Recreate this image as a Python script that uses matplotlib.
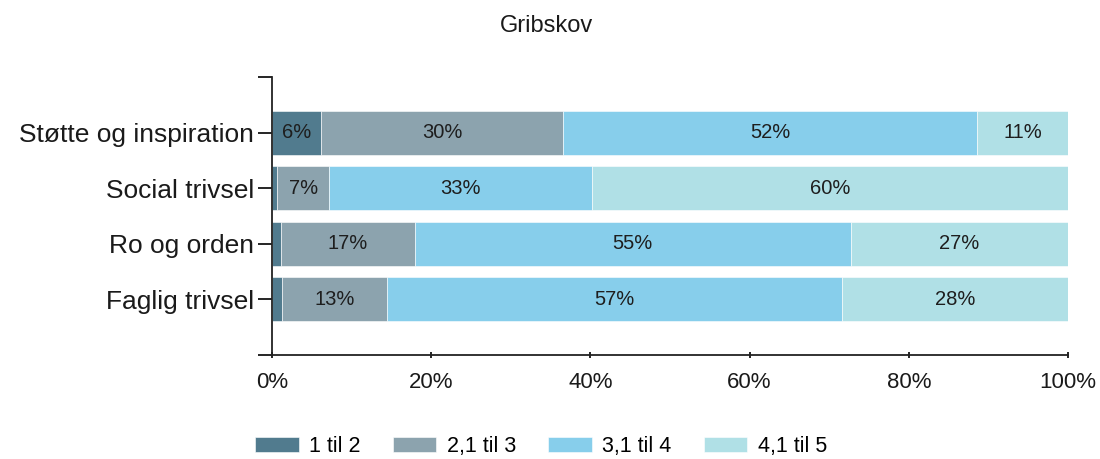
import numpy as np
import matplotlib
matplotlib.use("Agg")
import matplotlib.pyplot as plt

plt.rcParams['font.family'] = ['Liberation Sans', 'DejaVu Sans']

# Data (andel i procent pr. interval)
categories = ["Støtte og inspiration", "Social trivsel", "Ro og orden", "Faglig trivsel"]
series_names = ["1 til 2", "2,1 til 3", "3,1 til 4", "4,1 til 5"]
v_1_2 = [6.2, 0.6, 1.1, 1.3]
v_21_3 = [30.4, 6.6, 16.8, 13.1]
v_31_4 = [52.0, 33.0, 54.8, 57.2]
v_41_5 = [11.4, 59.8, 27.3, 28.4]
colors = ["#517b8e", "#8ca3ae", "#87ceeb", "#b0e0e6"]

fig = plt.figure(figsize=(11, 4.59), dpi=100)
ax = fig.add_axes([0.2473, 0.2266, 0.9709 - 0.2473, 0.8322 - 0.2266])

y = np.arange(len(categories))
left = np.zeros(len(categories))
for name, vals, col in zip(series_names, [v_1_2, v_21_3, v_31_4, v_41_5], colors):
    vals = np.array(vals)
    bars = ax.barh(y, vals, left=left, height=0.79, color=col, label=name,
                   edgecolor="white", linewidth=0.4)
    for b, v in zip(bars, vals):
        if v >= 4:
            ax.text(b.get_x() + b.get_width() / 2, b.get_y() + b.get_height() / 2,
                    f"{v:.0f}%", ha="center", va="center", fontsize=14.5, color="#1e1e1e")
    left += vals

ax.set_xlim(0, 100)
ax.set_ylim(-1, len(categories))
ax.invert_yaxis()
ax.set_yticks(y)
ax.set_yticklabels(categories, fontsize=19, color="#1a1a1a")
ax.set_yticks([-1, len(categories)], minor=True)
ax.set_xticks(np.arange(0, 101, 20))
ax.set_xticklabels([f"{t}%" for t in range(0, 101, 20)], fontsize=16, color="#1a1a1a")
ax.tick_params(axis="y", which="both", length=10, width=1.2, direction="out", pad=3)
ax.tick_params(axis="x", length=5, width=1.2, direction="inout", pad=10)
for s in ["top", "right"]:
    ax.spines[s].set_visible(False)
for s in ["left", "bottom"]:
    ax.spines[s].set_linewidth(1.3)
    ax.spines[s].set_color("#222222")

fig.text(0.497, 0.943, "Gribskov", ha="center", va="center", fontsize=17, color="#1a1a1a")

handles, labels = ax.get_legend_handles_labels()
fig.legend(handles, labels, loc="center", bbox_to_anchor=(0.492, 0.027), ncol=4,
           frameon=False, fontsize=15.5, handlelength=2.0, handleheight=0.7,
           columnspacing=1.5, handletextpad=0.5, borderpad=0.2)

fig.savefig("out.png", dpi=100)
